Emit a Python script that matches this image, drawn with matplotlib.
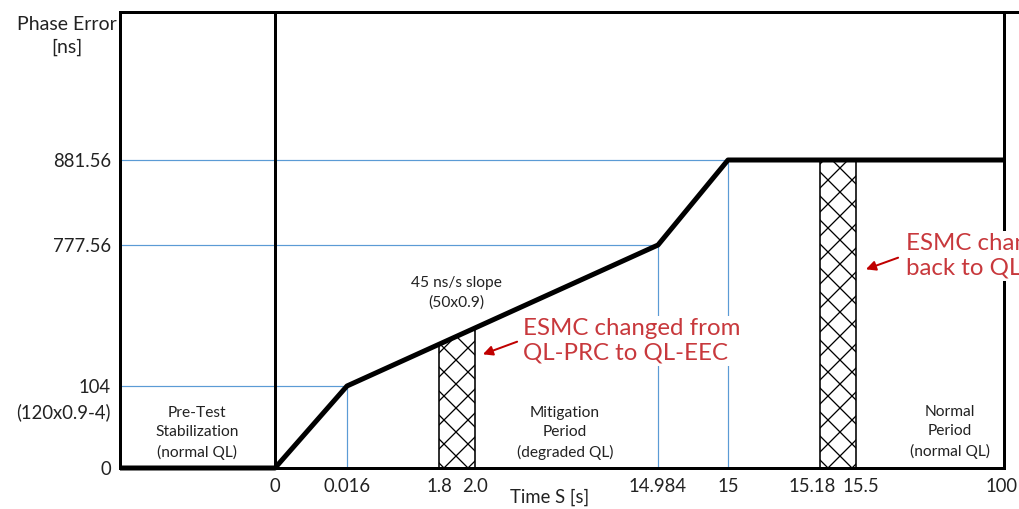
import numpy as np
import matplotlib
matplotlib.use('Agg')
import matplotlib.pyplot as plt
import matplotlib.transforms as mtransforms
from matplotlib.patches import Polygon

plt.rcParams['font.family'] = ['Lato', 'DejaVu Sans']
plt.rcParams['hatch.linewidth'] = 1.3

# data (schematic phase error profile)
phase_t = [-2, 0, 0.016, 14.984, 15, 100]
phase_ns = [0, 0, 104, 777.56, 881.56, 881.56]
xtick_vals = [0, 0.016, 1.8, 2.0, 14.984, 15, 15.18, 15.5, 100]
xtick_labels = ['0', '0.016', '1.8', '2.0', '14.984', '15', '15.18', '15.5', '100']
ytick_vals = [0, 104, 777.56, 881.56]
ytick_labels = ['0', '104', '777.56', '881.56']
guide_points = [(0.016, 104), (14.984, 777.56), (15, 881.56)]
esmc_windows = [(1.8, 2.0), (15.18, 15.5)]

# non-linear schematic axes (piecewise linear)
x_knots = [-2, 0, 0.016, 1.8, 2.0, 14.984, 15, 15.18, 15.5, 100, 104]
x_pos = [120, 275, 347, 439, 475, 658, 728, 820, 856, 1004, 1019]
y_knots = [0, 104, 777.56, 881.56, 1100]
y_pos = [0, 82, 223, 308, 456]

fx = lambda t: np.interp(t, x_knots, x_pos)
fx_inv = lambda p: np.interp(p, x_pos, x_knots)
fy = lambda v: np.interp(v, y_knots, y_pos)
fy_inv = lambda p: np.interp(p, y_pos, y_knots)

W, H = 1019, 509
fig = plt.figure(figsize=(W / 72, H / 72), dpi=72)
ax = fig.add_axes([120 / W, (H - 468) / H, 1 - 120 / W, (468 - 12) / H])
ax.set_xscale('function', functions=(fx, fx_inv))
ax.set_yscale('function', functions=(fy, fy_inv))
ax.set_xlim(-2, 104)
ax.set_ylim(0, 1100)


def px(x, y):
    return x / W, 1 - y / H


blue = '#5b9bd5'
for t, v in guide_points:
    ax.plot([-2, t], [v, v], color=blue, lw=1.2, zorder=1)
    ax.plot([t, t], [0, v], color=blue, lw=1.2, zorder=1)

ax.plot(phase_t, phase_ns, color='black', lw=5, solid_capstyle='butt', zorder=4, clip_on=False)
ax.axvline(0, color='black', lw=3, zorder=3)
ax.axvline(100, color='black', lw=3, zorder=3)


# point on the drawn (straight in display) ramp segment
def on_ramp(t):
    p0, p1 = fx(0.016), fx(14.984)
    q0, q1 = fy(104), fy(777.56)
    return float(fy_inv(q0 + (fx(t) - p0) / (p1 - p0) * (q1 - q0)))


for (a, b) in esmc_windows:
    if b < 14.984:
        top_a, top_b = on_ramp(a), on_ramp(b)
    else:
        top_a = top_b = 881.56
    ax.add_patch(Polygon([(a, 0), (b, 0), (b, top_b), (a, top_a)], closed=True,
                         facecolor='white', edgecolor='black', hatch='x', lw=1.6, zorder=2))

ax.spines['right'].set_visible(False)
for s in ['left', 'top', 'bottom']:
    ax.spines[s].set_linewidth(3)
ax.spines['bottom'].set_bounds(-2, 100)

ax.set_xticks(xtick_vals)
ax.set_xticklabels(xtick_labels)
ax.set_yticks(ytick_vals)
ax.set_yticklabels(ytick_labels)
ax.minorticks_off()
ax.tick_params(axis='both', length=0, labelsize=18.5, colors='#222222')
ax.tick_params(axis='x', pad=10)
ax.tick_params(axis='y', pad=9)

# nudge the two crowded labels apart like the reference
shifts = {'15.18': -8, '15.5': 5, '100': -2}
for lab in ax.get_xticklabels():
    d = shifts.get(lab.get_text())
    if d:
        lab.set_transform(lab.get_transform() + mtransforms.Affine2D().translate(d, 0))

ax.annotate('(120x0.9-4)', xy=(0, 104), xycoords=('axes fraction', 'data'),
            xytext=(-9, -26), textcoords='offset points', ha='right', va='center',
            fontsize=18.5, color='#222222')

fig.text(*px(67, 36), 'Phase Error\n[ns]', ha='center', va='center', fontsize=19.5,
         linespacing=1.35, color='#222222')
fig.text(*px(550, 497), 'Time S [s]', ha='center', va='center', fontsize=18.5, color='#222222')

small = dict(ha='center', va='center', fontsize=15.5, linespacing=1.45, color='#222222')
fig.text(*px(197, 433), 'Pre-Test\nStabilization\n(normal QL)', **small)
fig.text(*px(565, 433), 'Mitigation\nPeriod\n(degraded QL)', **small)
fig.text(*px(950, 432), 'Normal\nPeriod\n(normal QL)', **small)
fig.text(*px(456, 293), '45 ns/s slope\n(50x0.9)', **small)

red = '#c8383c'
fig.text(*px(523, 341), 'ESMC changed from\nQL-PRC to QL-EEC', ha='left', va='center',
         fontsize=24, color=red, linespacing=1.2, zorder=6,
         bbox=dict(facecolor='white', edgecolor='none', pad=2))
fig.text(*px(906, 256), 'ESMC changed\nback to QL-PRC', ha='left', va='center',
         fontsize=24, color=red, linespacing=1.2, zorder=6,
         bbox=dict(facecolor='white', edgecolor='none', pad=2))

arrow = dict(arrowstyle='-|>,head_length=0.8,head_width=0.4', color='#c00000', lw=2)
ax.annotate('', xy=px(481, 355), xycoords='figure fraction',
            xytext=px(519, 341), textcoords='figure fraction', arrowprops=arrow, zorder=7)
ax.annotate('', xy=px(864, 270), xycoords='figure fraction',
            xytext=px(900, 257), textcoords='figure fraction', arrowprops=arrow, zorder=7)

fig.savefig('out.png', dpi=72, facecolor='white')
